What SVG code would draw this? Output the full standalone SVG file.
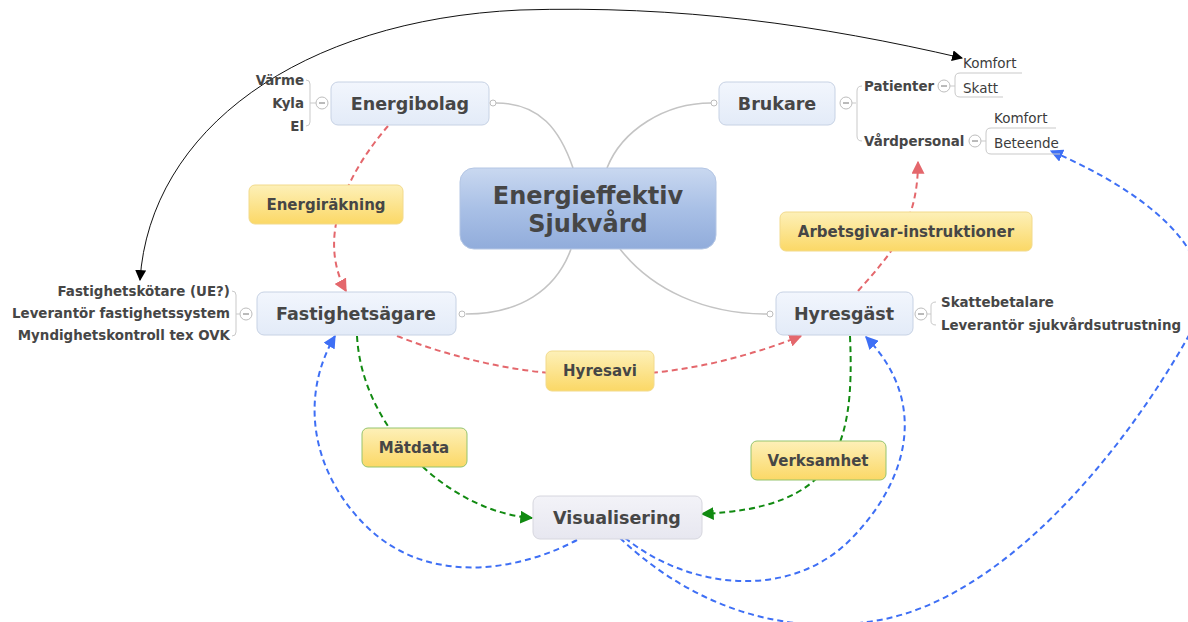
<svg xmlns="http://www.w3.org/2000/svg" width="1188" height="622" viewBox="0 0 1188 622">
<style>
.t{font-family:"DejaVu Sans",Verdana,sans-serif;font-weight:bold;fill:#464646}
.r{font-family:"DejaVu Sans",Verdana,sans-serif;fill:#3c3c3c;font-size:13.5px}
.c{font-size:13.4px}
.main{font-size:17.5px}
.lab{font-size:15px}
.node{fill:url(#gn);stroke:#c7d2e4;stroke-width:1}
.lbl{fill:url(#gy);stroke:#f2da8c;stroke-width:1}
.lblg{fill:url(#gy);stroke:#95c46e;stroke-width:1}
.br{fill:none;stroke:#c9c9c9;stroke-width:1}
.cl{fill:#fff;stroke:#bdbdbd;stroke-width:1}
.mn{stroke:#777;stroke-width:1}
.cen{fill:none;stroke:#c4c4c4;stroke-width:1.6}
.dot{fill:#fff;stroke:#bdbdbd;stroke-width:1}
.red{fill:none;stroke:#e4676c;stroke-width:2;stroke-dasharray:6 4}
.grn{fill:none;stroke:#118a11;stroke-width:2;stroke-dasharray:6 4}
.blu{fill:none;stroke:#3e6ff5;stroke-width:2;stroke-dasharray:6 4}
.blk{fill:none;stroke:#111;stroke-width:1}
</style>
<defs>
<linearGradient id="gc" x1="0" y1="0" x2="0" y2="1"><stop offset="0" stop-color="#c9d8f0"/><stop offset="0.5" stop-color="#a9c0e6"/><stop offset="1" stop-color="#91acdb"/></linearGradient>
<linearGradient id="gn" x1="0" y1="0" x2="0" y2="1"><stop offset="0" stop-color="#f2f6fd"/><stop offset="1" stop-color="#e3ebf8"/></linearGradient>
<linearGradient id="gv" x1="0" y1="0" x2="0" y2="1"><stop offset="0" stop-color="#f3f3f8"/><stop offset="1" stop-color="#e7e7f0"/></linearGradient>
<linearGradient id="gy" x1="0" y1="0" x2="0" y2="1"><stop offset="0" stop-color="#fdf0b8"/><stop offset="1" stop-color="#fbd866"/></linearGradient>
<marker id="ar" viewBox="0 0 10 10" refX="9" refY="5" markerWidth="13" markerHeight="13" markerUnits="userSpaceOnUse" orient="auto"><path d="M0,0 L10,5 L0,10 z" fill="#e4676c"/></marker>
<marker id="ag" viewBox="0 0 10 10" refX="9" refY="5" markerWidth="13" markerHeight="13" markerUnits="userSpaceOnUse" orient="auto"><path d="M0,0 L10,5 L0,10 z" fill="#118a11"/></marker>
<marker id="ab" viewBox="0 0 10 10" refX="9" refY="5" markerWidth="13" markerHeight="13" markerUnits="userSpaceOnUse" orient="auto"><path d="M0,0 L10,5 L0,10 z" fill="#3e6ff5"/></marker>
<marker id="ak" viewBox="0 0 10 10" refX="9" refY="5" markerWidth="11" markerHeight="11" markerUnits="userSpaceOnUse" orient="auto-start-reverse"><path d="M0,0 L10,5 L0,10 z" fill="#000"/></marker>
</defs>
<rect width="1188" height="622" fill="#fff"/>

<g id="connectors">
<path class="cen" d="M496,103 C540,103 560,130 573,168"/>
<path class="cen" d="M711,103 C665,103 622,130 607,168"/>
<path class="cen" d="M466,314 C520,314 556,290 571,249"/>
<path class="cen" d="M767,314 C705,314 652,290 620,249"/>
<path class="red" d="M388,126 C350,170 315,235 346,291" marker-end="url(#ar)"/>
<path class="red" d="M397,336 Q600,415 801,336" marker-end="url(#ar)"/>
<path class="red" d="M858,291 C890,255 918,225 918,162" marker-end="url(#ar)"/>
<path class="grn" d="M357,336 C362,430 450,512 532,518" marker-end="url(#ag)"/>
<path class="grn" d="M850,336 C855,450 835,508 702,514" marker-end="url(#ag)"/>
<path class="blu" d="M577,540 C525,568 430,590 365,525 C310,470 300,395 335,336" marker-end="url(#ab)"/>
<path class="blu" d="M625,538 C690,590 790,600 850,540 C905,485 932,405 866,337" marker-end="url(#ab)"/>
<path class="blu" d="M620,538 C680,595 770,640 880,620 C1000,598 1120,460 1192,330 C1235,250 1130,185 1051,151" marker-end="url(#ab)"/>
<path class="blk" d="M140,280 C150,130 300,20 520,10 C680,5 820,25 962,58" marker-start="url(#ak)" marker-end="url(#ak)"/>
</g>

<g id="center">
<rect x="460" y="168" width="256" height="81" rx="14" fill="url(#gc)" stroke="#b4c6e4"/>
<text class="t" x="588" y="204" font-size="24" text-anchor="middle" fill="#333">Energieffektiv</text>
<text class="t" x="588" y="232" font-size="24" text-anchor="middle" fill="#333">Sjukvård</text>
</g>

<g id="energibolag">
<rect class="node" x="331" y="82" width="158" height="43" rx="7"/>
<text class="t main" x="410" y="110" text-anchor="middle">Energibolag</text>
<circle class="dot" cx="493" cy="103" r="3"/>
<circle class="cl" cx="322" cy="103" r="6"/><line class="mn" x1="319" y1="103" x2="325" y2="103"/>
<path class="br" d="M316,103 H310 M306,80 Q310,80 310,84 V122 Q310,126 306,126"/>
<text class="t c" x="304" y="85" text-anchor="end">Värme</text>
<text class="t c" x="304" y="108" text-anchor="end">Kyla</text>
<text class="t c" x="304" y="131" text-anchor="end">El</text>
</g>

<g id="brukare">
<rect class="node" x="719" y="82" width="116" height="43" rx="7"/>
<text class="t main" x="777" y="110" text-anchor="middle">Brukare</text>
<circle class="dot" cx="714" cy="103" r="3"/>
<circle class="cl" cx="846" cy="103" r="6"/><line class="mn" x1="843" y1="103" x2="849" y2="103"/>
<path class="br" d="M852,103 H856 M862,86 Q857,86 857,91 V136 Q857,141 862,141"/>
<text class="t c" x="864" y="91">Patienter</text>
<text class="t c" x="864" y="146">Vårdpersonal</text>
</g>

<g id="patienter-sub">
<circle class="cl" cx="944" cy="86" r="6"/><line class="mn" x1="941" y1="86" x2="947" y2="86"/>
<path class="br" d="M950,86 H955 M1022,73 H960 Q955,73 955,78 V92 Q955,97 960,97 H1003"/>
<text class="r" x="963" y="68">Komfort</text>
<text class="r" x="963" y="93">Skatt</text>
</g>

<g id="vardpersonal-sub">
<circle class="cl" cx="975" cy="141" r="6"/><line class="mn" x1="972" y1="141" x2="978" y2="141"/>
<path class="br" d="M981,141 H986 M1056,128 H991 Q986,128 986,133 V149 Q986,154 991,154 H1060"/>
<text class="r" x="994" y="123">Komfort</text>
<text class="r" x="994" y="148">Beteende</text>
</g>

<g id="fastighetsagare">
<rect class="node" x="257" y="292" width="199" height="43" rx="7"/>
<text class="t main" x="356" y="320" text-anchor="middle">Fastighetsägare</text>
<circle class="dot" cx="462" cy="314" r="3"/>
<circle class="cl" cx="246" cy="314" r="6"/><line class="mn" x1="243" y1="314" x2="249" y2="314"/>
<path class="br" d="M240,314 H236 M232,291 Q236,291 236,295 V332 Q236,336 232,336"/>
<text class="t c" x="230" y="296" text-anchor="end">Fastighetskötare (UE?)</text>
<text class="t c" x="230" y="318" text-anchor="end">Leverantör fastighetssystem</text>
<text class="t c" x="230" y="340" text-anchor="end">Myndighetskontroll tex OVK</text>
</g>

<g id="hyresgast">
<rect class="node" x="776" y="292" width="137" height="43" rx="7"/>
<text class="t main" x="844" y="320" text-anchor="middle">Hyresgäst</text>
<circle class="dot" cx="770" cy="314" r="3"/>
<circle class="cl" cx="921" cy="314" r="6"/><line class="mn" x1="918" y1="314" x2="924" y2="314"/>
<path class="br" d="M927,314 H931 M936,302 Q931,302 931,306 V321 Q931,325 936,325"/>
<text class="t c" x="941" y="307">Skattebetalare</text>
<text class="t c" x="941" y="330">Leverantör sjukvårdsutrustning</text>
</g>

<g id="visualisering">
<rect x="533" y="496" width="169" height="43" rx="7" fill="url(#gv)" stroke="#d6d6de"/>
<text class="t main" x="617" y="524" text-anchor="middle">Visualisering</text>
</g>

<g id="energirakning">
<rect class="lbl" x="249" y="185" width="154" height="39" rx="6"/>
<text class="t lab" x="326" y="210" text-anchor="middle">Energiräkning</text>
</g>
<g id="arbetsgivar">
<rect class="lbl" x="780" y="212" width="252" height="39" rx="6"/>
<text class="t lab" x="906" y="237" text-anchor="middle">Arbetsgivar-instruktioner</text>
</g>
<g id="hyresavi">
<rect class="lbl" x="546" y="351" width="108" height="40" rx="6"/>
<text class="t lab" x="600" y="376" text-anchor="middle">Hyresavi</text>
</g>
<g id="matdata">
<rect class="lblg" x="362" y="428" width="105" height="39" rx="6"/>
<text class="t lab" x="414" y="453" text-anchor="middle">Mätdata</text>
</g>
<g id="verksamhet">
<rect class="lblg" x="751" y="441" width="135" height="39" rx="6"/>
<text class="t lab" x="818" y="466" text-anchor="middle">Verksamhet</text>
</g>
</svg>
